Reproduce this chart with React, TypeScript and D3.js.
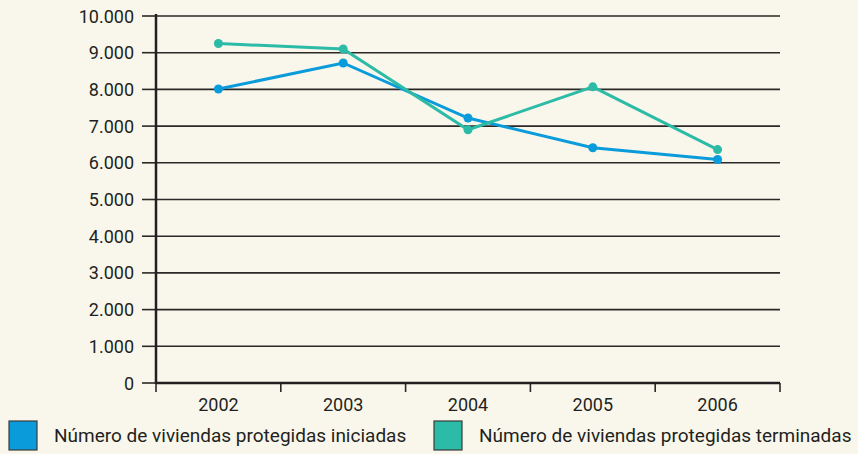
import { useRef, useEffect } from 'react';
import * as d3 from 'd3';

const years = ['2002', '2003', '2004', '2005', '2006'];
const iniciadas = [8010, 8720, 7220, 6410, 6090];
const terminadas = [9250, 9100, 6900, 8070, 6360];
const yTicks = [0, 1000, 2000, 3000, 4000, 5000, 6000, 7000, 8000, 9000, 10000];
const legendLabels = [
  'Número de viviendas protegidas iniciadas',
  'Número de viviendas protegidas terminadas',
];
const seriesColors = ['#0a9bdb', '#2cbba6'];

const W = 858;
const H = 454;
const FONT = "Roboto, 'Liberation Sans', sans-serif";

const App = () => {
  const svgRef = useRef<SVGSVGElement | null>(null);

  useEffect(() => {
    const svg = d3.select(svgRef.current);
    svg.selectAll('*').remove();

    const left = 156;
    const right = 780;
    const top = 16;
    const bottom = 383;

    const x = d3.scaleBand().domain(years).range([left, right]).padding(0);
    const y = d3.scaleLinear().domain([0, 10000]).range([bottom, top]);
    const fmt = d3.formatLocale({ decimal: ',', thousands: '.', grouping: [3], currency: ['', '€'] }).format(',d');

    svg.append('rect').attr('width', W).attr('height', H).attr('fill', '#f9f7ec');

    // grid lines
    svg
      .selectAll('.grid')
      .data(yTicks.filter((t) => t > 0))
      .join('line')
      .attr('class', 'grid')
      .attr('x1', left)
      .attr('x2', right)
      .attr('y1', (d) => y(d))
      .attr('y2', (d) => y(d))
      .attr('stroke', '#2b2826')
      .attr('stroke-width', 1.6);

    // y tick marks
    svg
      .selectAll('.ytick')
      .data(yTicks)
      .join('line')
      .attr('class', 'ytick')
      .attr('x1', left - 14)
      .attr('x2', left)
      .attr('y1', (d) => y(d))
      .attr('y2', (d) => y(d))
      .attr('stroke', '#2b2826')
      .attr('stroke-width', 1.6);

    svg
      .selectAll('.ylabel')
      .data(yTicks)
      .join('text')
      .attr('class', 'ylabel')
      .attr('x', left - 22)
      .attr('y', (d) => y(d) + 6.5)
      .attr('text-anchor', 'end')
      .attr('font-family', FONT)
      .attr('font-size', 18)
      .attr('fill', '#231f20')
      .text((d) => fmt(d));

    // x tick marks at band edges
    const edges = years.map((yr) => x(yr) as number).concat([right]);
    svg
      .selectAll('.xtick')
      .data(edges)
      .join('line')
      .attr('class', 'xtick')
      .attr('x1', (d) => d)
      .attr('x2', (d) => d)
      .attr('y1', bottom)
      .attr('y2', bottom + 9)
      .attr('stroke', '#2b2826')
      .attr('stroke-width', 1.6);

    svg
      .selectAll('.xlabel')
      .data(years)
      .join('text')
      .attr('class', 'xlabel')
      .attr('x', (d) => (x(d) as number) + x.bandwidth() / 2)
      .attr('y', 411)
      .attr('text-anchor', 'middle')
      .attr('font-family', FONT)
      .attr('font-size', 18)
      .attr('fill', '#231f20')
      .text((d) => d);

    // axes
    svg.append('line').attr('x1', left).attr('x2', left).attr('y1', top - 2).attr('y2', bottom + 1)
      .attr('stroke', '#231f20').attr('stroke-width', 2.5);
    svg.append('line').attr('x1', left).attr('x2', right).attr('y1', bottom).attr('y2', bottom)
      .attr('stroke', '#231f20').attr('stroke-width', 2.5);

    // series
    const cx = (i: number) => (x(years[i]) as number) + x.bandwidth() / 2;
    const line = d3
      .line<number>()
      .x((_, i) => cx(i))
      .y((d) => y(d));

    [iniciadas, terminadas].forEach((values, s) => {
      svg.append('path')
        .datum(values)
        .attr('d', line)
        .attr('fill', 'none')
        .attr('stroke', seriesColors[s])
        .attr('stroke-width', 3);
    });
    [terminadas, iniciadas].forEach((values) => {
      const s = values === iniciadas ? 0 : 1;
      svg.append('g')
        .selectAll('circle')
        .data(values)
        .join('circle')
        .attr('cx', (_, i) => cx(i))
        .attr('cy', (d) => y(d))
        .attr('r', 4.5)
        .attr('fill', seriesColors[s]);
    });

    // legend
    const legendX = [9, 434];
    legendLabels.forEach((label, i) => {
      svg.append('rect')
        .attr('x', legendX[i])
        .attr('y', 421)
        .attr('width', 28)
        .attr('height', 29)
        .attr('fill', seriesColors[i])
        .attr('stroke', '#3a3a3a')
        .attr('stroke-width', 1.2);
      svg.append('text')
        .attr('x', legendX[i] + 45)
        .attr('y', 442)
        .attr('font-family', FONT)
        .attr('font-size', 19)
        .attr('fill', '#231f20')
        .text(label);
    });
  }, []);

  return (
    <svg
      ref={svgRef}
      width={W}
      height={H}
      style={{ position: 'absolute', left: 0, top: 0, display: 'block' }}
    ></svg>
  );
};

export default App;
